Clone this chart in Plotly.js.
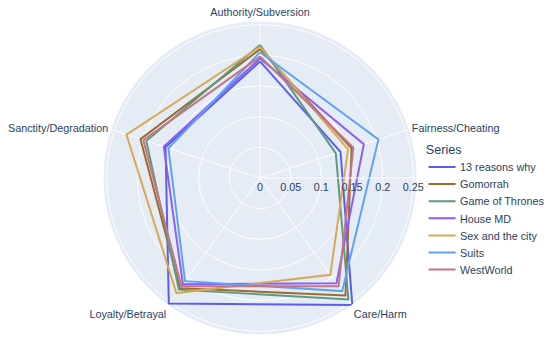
<!DOCTYPE html>
<html>
<head>
<meta charset="utf-8">
<script src="https://cdn.plot.ly/plotly-3.0.1.min.js"></script>
<style>
html,body{margin:0;padding:0;background:#fff;overflow:hidden;width:550px;height:343px;}
#chart{width:611px;height:381px;transform:scale(0.9002);transform-origin:0 0;}
</style>
</head>
<body>
<div id="chart"></div>
<script>
const categories = ["Authority/Subversion", "Fairness/Cheating", "Care/Harm", "Loyalty/Betrayal", "Sanctity/Degradation"];
const seriesNames = ["13 reasons why", "Gomorrah", "Game of Thrones", "House MD", "Sex and the city", "Suits", "WestWorld"];
const thirteenReasonsWhy = [0.190, 0.138, 0.256, 0.253, 0.162];
const gomorrah = [0.210, 0.157, 0.237, 0.222, 0.205];
const gameOfThrones = [0.217, 0.130, 0.245, 0.225, 0.195];
const houseMD = [0.195, 0.178, 0.212, 0.214, 0.165];
const sexAndTheCity = [0.214, 0.151, 0.195, 0.232, 0.229];
const suits = [0.205, 0.203, 0.228, 0.208, 0.157];
const westWorld = [0.198, 0.160, 0.218, 0.218, 0.200];
const radialTicks = [0, 0.05, 0.1, 0.15, 0.2, 0.25];

const seriesValues = [thirteenReasonsWhy, gomorrah, gameOfThrones, houseMD, sexAndTheCity, suits, westWorld];
const colors = ["#5b5cf0", "#9c6b2c", "#5d9a80", "#8d5cf2", "#d6a955", "#5ea3f2", "#c47584"];

const traces = seriesValues.map((vals, i) => ({
  type: "scatterpolar",
  mode: "lines",
  name: seriesNames[i],
  r: vals.concat([vals[0]]),
  theta: categories.concat([categories[0]]),
  line: {color: colors[i], width: 2.2}
}));

const layout = {
  width: 611, height: 381,
  margin: {l: 0, r: 0, t: 0, b: 0},
  paper_bgcolor: "#ffffff",
  font: {family: "Liberation Sans, Arial, sans-serif", size: 12, color: "#2a3f5f"},
  showlegend: true,
  legend: {
    title: {text: "Series", font: {size: 14}},
    x: 0.771, xanchor: "left", y: 0.599, yanchor: "top",
    bgcolor: "rgba(0,0,0,0)",
    font: {size: 12}
  },
  polar: {
    domain: {x: [0.1873, 0.7582], y: [0.0233, 0.9388]},
    bgcolor: "#E5ECF6",
    angularaxis: {
      rotation: 90, direction: "clockwise",
      gridcolor: "white", linecolor: "white", showline: true, ticks: ""
    },
    radialaxis: {
      angle: 0,
      tickvals: radialTicks,
      ticktext: radialTicks.map(String),
      gridcolor: "white", linecolor: "white", showline: true, ticks: "",
      tickangle: 0
    }
  }
};

Plotly.newPlot("chart", traces, layout, {displayModeBar: false, staticPlot: true});
</script>
</body>
</html>
